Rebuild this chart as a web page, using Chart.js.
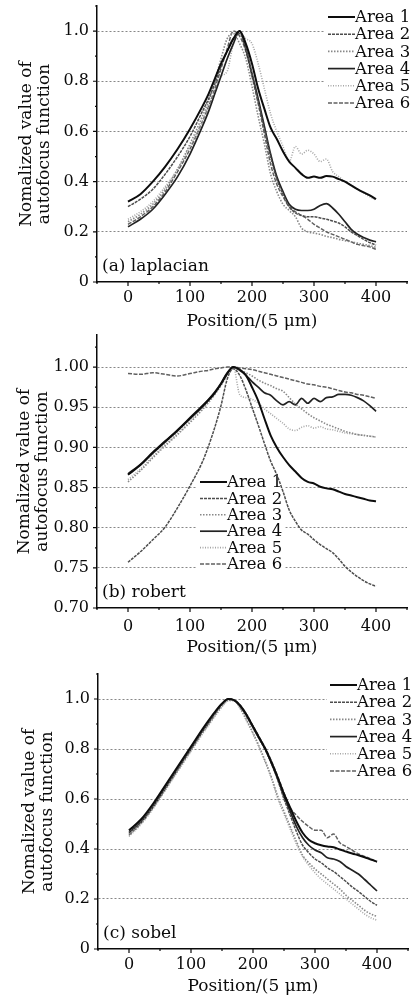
<!DOCTYPE html>
<html>
<head>
<meta charset="utf-8">
<title>Autofocus functions</title>
<script src="https://cdn.jsdelivr.net/npm/chart.js@4.4.1/dist/chart.umd.min.js"></script>
<style>
  html, body { margin: 0; padding: 0; background: #fff; }
  #wrap { position: relative; width: 420px; height: 999px; overflow: hidden; }
  canvas { position: absolute; left: 0; }
</style>
</head>
<body>
<div id="wrap">
  <canvas id="chartA" width="420" height="334" style="top:0px"></canvas>
  <canvas id="chartB" width="420" height="330" style="top:330px"></canvas>
  <canvas id="chartC" width="420" height="339" style="top:660px"></canvas>
</div>
<script>
// sample positions (in units of 5 um)
const positions = [0, 20, 40, 60, 80, 100, 120, 130, 140, 150, 160, 170, 180, 190, 200, 210, 220, 230,
  240, 250, 260, 270, 280, 290, 300, 310, 320, 330, 340, 350, 360, 370, 380, 390, 400];

const areaNames = ['Area 1', 'Area 2', 'Area 3', 'Area 4', 'Area 5', 'Area 6'];

const xTicks = [0, 100, 200, 300, 400];
const unitYTicks = [0, 0.2, 0.4, 0.6, 0.8, 1.0];
const robertYTicks = [0.70, 0.75, 0.80, 0.85, 0.90, 0.95, 1.00];

// (a) laplacian
const lapArea1 = [0.32, 0.35, 0.40, 0.46, 0.53, 0.61, 0.70, 0.75, 0.81, 0.87, 0.92, 0.97, 1.00, 0.95, 0.87, 0.77, 0.69, 0.615,
  0.57, 0.52, 0.48, 0.455, 0.43, 0.415, 0.42, 0.415, 0.422, 0.42, 0.41, 0.40, 0.385, 0.37, 0.357, 0.345, 0.33];
const lapArea2 = [0.30, 0.33, 0.37, 0.43, 0.50, 0.58, 0.68, 0.73, 0.79, 0.86, 0.92, 0.97, 0.99, 0.93, 0.83, 0.72, 0.61, 0.50,
  0.41, 0.35, 0.30, 0.275, 0.265, 0.26, 0.26, 0.255, 0.25, 0.243, 0.235, 0.22, 0.20, 0.185, 0.17, 0.157, 0.147];
const lapArea3 = [0.24, 0.27, 0.31, 0.37, 0.45, 0.55, 0.66, 0.72, 0.80, 0.89, 0.97, 0.99, 0.95, 0.89, 0.78, 0.66, 0.55, 0.43,
  0.36, 0.31, 0.285, 0.26, 0.215, 0.20, 0.195, 0.19, 0.182, 0.177, 0.17, 0.165, 0.16, 0.155, 0.15, 0.145, 0.138];
const lapArea4 = [0.22, 0.25, 0.29, 0.35, 0.42, 0.51, 0.62, 0.68, 0.75, 0.82, 0.89, 0.95, 1.00, 0.93, 0.83, 0.73, 0.62, 0.51,
  0.42, 0.36, 0.31, 0.29, 0.285, 0.285, 0.29, 0.305, 0.312, 0.295, 0.27, 0.24, 0.21, 0.19, 0.177, 0.167, 0.16];
const lapArea5 = [0.25, 0.28, 0.32, 0.38, 0.45, 0.54, 0.64, 0.70, 0.76, 0.82, 0.84, 0.95, 0.99, 0.97, 0.95, 0.87, 0.77, 0.67,
  0.60, 0.54, 0.48, 0.54, 0.51, 0.525, 0.51, 0.48, 0.49, 0.44, 0.42, 0.40, 0.385, 0.37, 0.355, 0.34, 0.325];
const lapArea6 = [0.23, 0.26, 0.30, 0.36, 0.44, 0.53, 0.64, 0.70, 0.77, 0.85, 0.93, 1.00, 0.98, 0.92, 0.82, 0.71, 0.59, 0.47,
  0.39, 0.34, 0.30, 0.28, 0.265, 0.25, 0.23, 0.215, 0.20, 0.19, 0.18, 0.17, 0.16, 0.15, 0.145, 0.14, 0.13];

// (b) robert
const robArea1 = [0.866, 0.878, 0.893, 0.907, 0.921, 0.936, 0.951, 0.959, 0.968, 0.979, 0.992, 1.000, 0.997, 0.990, 0.975, 0.958, 0.936, 0.915,
  0.900, 0.888, 0.878, 0.870, 0.862, 0.857, 0.855, 0.851, 0.849, 0.848, 0.845, 0.842, 0.840, 0.838, 0.836, 0.834, 0.833];
const robArea2 = [0.757, 0.770, 0.785, 0.801, 0.825, 0.852, 0.882, 0.902, 0.925, 0.952, 0.985, 0.998, 0.990, 0.972, 0.950, 0.928, 0.905, 0.883,
  0.866, 0.845, 0.822, 0.808, 0.797, 0.792, 0.785, 0.779, 0.774, 0.769, 0.761, 0.752, 0.745, 0.739, 0.734, 0.730, 0.727];
const robArea3 = [0.857, 0.871, 0.887, 0.902, 0.916, 0.931, 0.947, 0.956, 0.966, 0.977, 0.990, 1.000, 0.997, 0.993, 0.989, 0.984, 0.980, 0.977,
  0.973, 0.970, 0.962, 0.954, 0.948, 0.942, 0.937, 0.933, 0.929, 0.926, 0.923, 0.920, 0.918, 0.916, 0.915, 0.914, 0.913];
const robArea4 = [0.867, 0.879, 0.894, 0.908, 0.922, 0.937, 0.952, 0.960, 0.969, 0.980, 0.993, 1.000, 0.996, 0.990, 0.982, 0.975, 0.968, 0.965,
  0.958, 0.953, 0.957, 0.953, 0.961, 0.955, 0.961, 0.957, 0.962, 0.963, 0.966, 0.966, 0.965, 0.962, 0.958, 0.952, 0.945];
const robArea5 = [0.860, 0.873, 0.889, 0.904, 0.918, 0.933, 0.949, 0.958, 0.967, 0.979, 0.992, 1.000, 0.966, 0.962, 0.960, 0.955, 0.948, 0.942,
  0.936, 0.930, 0.923, 0.921, 0.925, 0.927, 0.924, 0.926, 0.923, 0.922, 0.920, 0.918, 0.917, 0.916, 0.915, 0.914, 0.913];
const robArea6 = [0.992, 0.991, 0.993, 0.991, 0.989, 0.992, 0.995, 0.996, 0.998, 0.999, 1.000, 1.000, 0.999, 0.998, 0.997, 0.995, 0.993, 0.991,
  0.989, 0.987, 0.985, 0.983, 0.981, 0.979, 0.978, 0.976, 0.975, 0.973, 0.971, 0.969, 0.968, 0.966, 0.965, 0.963, 0.961];

// (c) sobel
const sobArea1 = [0.475, 0.52, 0.585, 0.66, 0.735, 0.81, 0.885, 0.92, 0.953, 0.982, 1.000, 0.995, 0.972, 0.935, 0.89, 0.845, 0.80, 0.745,
  0.685, 0.62, 0.565, 0.51, 0.465, 0.437, 0.423, 0.415, 0.41, 0.407, 0.398, 0.39, 0.382, 0.375, 0.367, 0.358, 0.35];
const sobArea2 = [0.47, 0.515, 0.58, 0.655, 0.73, 0.805, 0.88, 0.915, 0.95, 0.98, 1.000, 0.993, 0.968, 0.93, 0.885, 0.84, 0.795, 0.74,
  0.675, 0.60, 0.535, 0.47, 0.415, 0.385, 0.36, 0.345, 0.325, 0.31, 0.29, 0.27, 0.248, 0.23, 0.21, 0.19, 0.175];
const sobArea3 = [0.46, 0.505, 0.57, 0.645, 0.72, 0.795, 0.87, 0.905, 0.94, 0.972, 0.995, 0.995, 0.962, 0.915, 0.865, 0.81, 0.75, 0.685,
  0.61, 0.55, 0.49, 0.43, 0.375, 0.345, 0.32, 0.30, 0.28, 0.26, 0.24, 0.215, 0.195, 0.175, 0.155, 0.14, 0.13];
const sobArea4 = [0.465, 0.51, 0.575, 0.65, 0.727, 0.802, 0.878, 0.913, 0.948, 0.98, 1.000, 0.994, 0.97, 0.932, 0.888, 0.843, 0.798, 0.742,
  0.68, 0.61, 0.55, 0.49, 0.445, 0.415, 0.396, 0.385, 0.365, 0.36, 0.35, 0.33, 0.315, 0.30, 0.278, 0.255, 0.232];
const sobArea5 = [0.45, 0.50, 0.565, 0.64, 0.715, 0.79, 0.865, 0.90, 0.935, 0.968, 0.992, 0.993, 0.958, 0.91, 0.86, 0.805, 0.745, 0.68,
  0.60, 0.54, 0.48, 0.42, 0.37, 0.335, 0.305, 0.28, 0.26, 0.24, 0.22, 0.20, 0.18, 0.16, 0.14, 0.125, 0.115];
const sobArea6 = [0.455, 0.505, 0.57, 0.645, 0.722, 0.798, 0.873, 0.908, 0.944, 0.976, 0.998, 0.996, 0.972, 0.937, 0.892, 0.848, 0.803, 0.75,
  0.69, 0.625, 0.565, 0.535, 0.51, 0.49, 0.475, 0.475, 0.445, 0.46, 0.425, 0.41, 0.395, 0.38, 0.37, 0.36, 0.347];

// line look for each area
const areaStyles = [
  { color: '#0d0d0d', width: 2.0, dash: [] },
  { color: '#4d4d4d', width: 1.5, dash: [3, 1] },
  { color: '#888', width: 1.6, dash: [1.5, 1.5] },
  { color: '#222', width: 1.7, dash: [] },
  { color: '#a6a6a6', width: 1.6, dash: [1, 1.5] },
  { color: '#606060', width: 1.5, dash: [4, 1.5] }
];

const serif = '"DejaVu Serif", "Liberation Serif", serif';
const ink = '#0a0a0a';

function buildDatasets(series) {
  return series.map((vals, i) => ({
    label: areaNames[i],
    data: positions.map((p, k) => ({ x: p, y: vals[k] })),
    borderColor: areaStyles[i].color,
    borderWidth: areaStyles[i].width,
    borderDash: areaStyles[i].dash,
    pointRadius: 0,
    fill: false,
    cubicInterpolationMode: 'monotone'
  }));
}

// legend box, minor/major tick marks and the panel tag
const panelDecor = {
  id: 'panelDecor',
  beforeDatasetsDraw(chart, args, opts) {
    const ctx = chart.ctx;
    const lg = opts.legend;
    const sets = chart.data.datasets;
    ctx.save();
    ctx.font = '16.5px ' + serif;
    const textW = Math.max(...sets.map(d => ctx.measureText(d.label).width));
    ctx.fillStyle = '#fff';
    ctx.fillRect(lg.x - 3, lg.y - lg.gap / 2, lg.len + textW + 6, lg.gap * sets.length);
    sets.forEach((ds, i) => {
      const yy = lg.y + i * lg.gap;
      ctx.strokeStyle = ds.borderColor;
      ctx.lineWidth = ds.borderWidth;
      ctx.setLineDash(ds.borderDash || []);
      ctx.beginPath();
      ctx.moveTo(lg.x, yy);
      ctx.lineTo(lg.x + lg.len, yy);
      ctx.stroke();
      ctx.setLineDash([]);
      ctx.fillStyle = ink;
      ctx.textAlign = 'left';
      ctx.textBaseline = 'middle';
      ctx.fillText(ds.label, lg.x + lg.len, yy + 1);
    });
    ctx.restore();
  },
  afterDraw(chart, args, opts) {
    const { ctx, chartArea, scales: { x, y } } = chart;
    ctx.save();
    ctx.strokeStyle = ink;
    ctx.lineWidth = 1.2;
    ctx.beginPath();
    const mark = (scale, vals, len) => {
      vals.forEach(v => {
        if (v < scale.min || v > scale.max) return;
        const p = scale.getPixelForValue(v);
        if (scale.isHorizontal()) {
          ctx.moveTo(p, chartArea.bottom);
          ctx.lineTo(p, chartArea.bottom + len);
        } else {
          ctx.moveTo(chartArea.left, p);
          ctx.lineTo(chartArea.left - len, p);
        }
      });
    };
    [x, y].forEach(scale => {
      const major = scale.ticks.map(t => t.value);
      const half = (major[1] - major[0]) / 2;
      const minor = major.map(v => v + half).concat([major[0] - half]);
      mark(scale, major, 4);
      mark(scale, minor, 2);
    });
    ctx.stroke();

    ctx.fillStyle = ink;
    ctx.font = '17px ' + serif;
    ctx.textAlign = 'left';
    ctx.textBaseline = 'middle';
    ctx.fillText(opts.tag, chartArea.left + 5, chartArea.bottom + opts.tagDy);
    ctx.restore();
  }
};

function makePanel(id, cfg) {
  const gridColor = c => (c.tick && Math.abs(c.tick.value - cfg.yMin) < 1e-9) ? 'rgba(0,0,0,0)' : '#7a7a7a';
  return new Chart(document.getElementById(id), {
    type: 'line',
    data: { datasets: buildDatasets(cfg.series) },
    plugins: [panelDecor],
    options: {
      responsive: false,
      animation: false,
      devicePixelRatio: 1,
      layout: { padding: { top: cfg.padTop, right: cfg.padRight, left: 0, bottom: 0 } },
      plugins: {
        legend: { display: false },
        tooltip: { enabled: false },
        panelDecor: { legend: cfg.legend, tag: cfg.tag, tagDy: -15 }
      },
      scales: {
        x: {
          type: 'linear',
          min: -50,
          max: 450,
          afterBuildTicks: s => { s.ticks = xTicks.map(v => ({ value: v })); },
          afterFit: s => { s.height = cfg.xHeight; s.paddingLeft = 0; s.paddingRight = 0; },
          grid: { display: false, drawTicks: false },
          border: { display: true, color: ink, width: 1.5 },
          ticks: { color: ink, font: { family: serif, size: 16 }, padding: cfg.xTickPad, maxRotation: 0, autoSkip: false },
          title: {
            display: true, text: 'Position/(5 μm)', color: ink,
            font: { family: serif, size: 17, lineHeight: 1.2 },
            padding: { top: 0, bottom: 2 }
          }
        },
        y: {
          type: 'linear',
          min: cfg.yMin,
          max: cfg.yMax,
          afterBuildTicks: s => { s.ticks = cfg.yTicks.map(v => ({ value: v })); },
          afterFit: s => { s.width = cfg.yWidth; s.paddingTop = 0; s.paddingBottom = 0; },
          grid: { display: true, drawTicks: false, color: gridColor, lineWidth: 0.9 },
          border: { display: true, color: ink, width: 1.5, dash: [2, 2] },
          ticks: {
            color: ink, font: { family: serif, size: 16 }, padding: 8, autoSkip: false,
            callback: v => v === 0 ? '0' : v.toFixed(cfg.decimals)
          },
          title: {
            display: true, text: ['Nomalized value of', 'autofocus function'], color: ink,
            font: { family: serif, size: 17, lineHeight: 1.06 },
            padding: { top: cfg.yTitlePad, bottom: 0 }
          }
        }
      }
    }
  });
}

makePanel('chartA', {
  series: [lapArea1, lapArea2, lapArea3, lapArea4, lapArea5, lapArea6],
  yMin: 0, yMax: 1.1, yTicks: unitYTicks, decimals: 1,
  padTop: 6, padRight: 13, xHeight: 52, yWidth: 97, xTickPad: 6, yTitlePad: 18,
  legend: { x: 328, y: 17, gap: 17.2, len: 27 },
  tag: '(a) laplacian'
});

makePanel('chartB', {
  series: [robArea1, robArea2, robArea3, robArea4, robArea5, robArea6],
  yMin: 0.70, yMax: 1.04, yTicks: robertYTicks, decimals: 2,
  padTop: 5, padRight: 13, xHeight: 52, yWidth: 97, xTickPad: 9, yTitlePad: 16,
  legend: { x: 200, y: 152, gap: 16.4, len: 27 },
  tag: '(b) robert'
});

makePanel('chartC', {
  series: [sobArea1, sobArea2, sobArea3, sobArea4, sobArea5, sobArea6],
  yMin: 0, yMax: 1.1, yTicks: unitYTicks, decimals: 1,
  padTop: 14, padRight: 12, xHeight: 50, yWidth: 98, xTickPad: 6, yTitlePad: 21,
  legend: { x: 330, y: 25, gap: 17.2, len: 27 },
  tag: '(c) sobel'
});
</script>
</body>
</html>
